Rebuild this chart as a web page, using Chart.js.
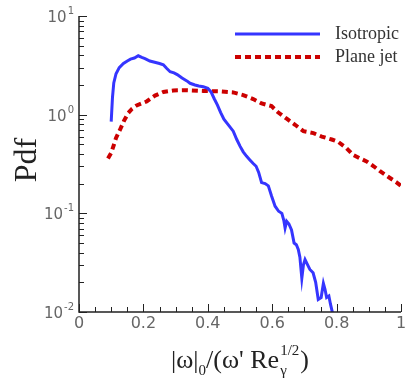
<!DOCTYPE html>
<html>
<head>
<meta charset="utf-8">
<script src="https://cdn.jsdelivr.net/npm/chart.js@4"></script>
<style>
  html, body { margin: 0; padding: 0; background: #fff; }
  #c { display: block; }
</style>
</head>
<body>
<canvas id="c" width="406" height="386"></canvas>
<script>
// ---- data ----
const isoX = [0.100,0.104,0.108,0.115,0.125,0.138,0.150,0.160,0.172,0.184,0.195,0.205,0.220,0.235,0.250,0.262,0.272,0.283,0.295,0.305,0.320,0.335,0.345,0.360,0.372,0.386,0.400,0.410,0.420,0.430,0.440,0.450,0.465,0.479,0.490,0.500,0.510,0.520,0.530,0.541,0.550,0.558,0.567,0.578,0.588,0.598,0.609,0.620,0.630,0.636,0.640,0.645,0.652,0.660,0.668,0.675,0.681,0.686,0.692,0.697,0.702,0.710,0.717,0.727,0.735,0.743,0.752,0.759,0.764,0.769,0.776,0.781,0.786,0.790];
const isoY = [0.85,1.5,2.1,2.6,3.0,3.3,3.5,3.65,3.75,3.95,3.8,3.7,3.5,3.4,3.3,3.2,2.95,2.72,2.65,2.55,2.35,2.2,2.08,2.0,1.95,1.92,1.85,1.7,1.45,1.25,1.05,0.9,0.78,0.68,0.56,0.48,0.42,0.38,0.35,0.32,0.30,0.26,0.205,0.20,0.19,0.15,0.118,0.105,0.10,0.085,0.071,0.083,0.078,0.068,0.050,0.048,0.043,0.036,0.022,0.030,0.034,0.030,0.027,0.025,0.020,0.0134,0.014,0.0195,0.017,0.014,0.0145,0.012,0.0102,0.009];
const jetX = [0.090,0.100,0.107,0.115,0.127,0.140,0.153,0.165,0.179,0.195,0.210,0.236,0.262,0.293,0.334,0.386,0.438,0.479,0.510,0.541,0.567,0.598,0.619,0.645,0.671,0.697,0.728,0.754,0.785,0.805,0.830,0.852,0.873,0.893,0.915,0.935,0.960,0.987,1.000];
const jetY = [0.36,0.41,0.48,0.58,0.70,0.87,1.04,1.15,1.24,1.30,1.36,1.56,1.70,1.76,1.77,1.74,1.72,1.68,1.58,1.44,1.30,1.22,1.05,0.91,0.79,0.68,0.65,0.60,0.56,0.53,0.46,0.39,0.36,0.336,0.30,0.267,0.235,0.205,0.19];
const seriesNames = ["Isotropic", "Plane jet"];
const xMajorTicks = [0, 0.2, 0.4, 0.6, 0.8, 1];
const xTickLabels = ["0", "0.2", "0.4", "0.6", "0.8", "1"];
const yDecades = [0.01, 0.1, 1, 10];
const yTickExp = ["-2", "-1", "0", "1"];

const toPts = (xs, ys) => xs.map((x, i) => ({ x: x, y: ys[i] }));

const SERIF = '"Liberation Serif", "DejaVu Serif", serif';
const SANS = '"DejaVu Sans", sans-serif';

const axesPlugin = {
  id: 'axesPlugin',
  afterDraw(chart) {
    const ctx = chart.ctx;
    const xs = chart.scales.x, ys = chart.scales.y;
    const L = xs.left, R = xs.right, T = ys.top, B = ys.bottom;
    ctx.save();
    ctx.strokeStyle = '#222';
    ctx.lineWidth = 1.5;
    ctx.beginPath();
    ctx.moveTo(L, T); ctx.lineTo(L, B); ctx.lineTo(R, B);
    ctx.stroke();
    ctx.lineWidth = 1;
    // x ticks
    for (let v = 0; v <= 1.0001; v += 0.05) {
      const px = Math.round(xs.getPixelForValue(v)) + 0.5;
      const major = Math.abs(v / 0.2 - Math.round(v / 0.2)) < 1e-6;
      ctx.beginPath();
      ctx.moveTo(px, B); ctx.lineTo(px, B - (major ? 8 : 5));
      ctx.stroke();
    }
    // y ticks
    for (let d = 0; d < yDecades.length; d++) {
      const base = yDecades[d];
      const py = Math.round(ys.getPixelForValue(base)) + 0.5;
      ctx.beginPath(); ctx.moveTo(L, py); ctx.lineTo(L + 8, py); ctx.stroke();
      if (d < yDecades.length - 1) {
        for (let m = 2; m <= 9; m++) {
          const pm = Math.round(ys.getPixelForValue(base * m)) + 0.5;
          ctx.beginPath(); ctx.moveTo(L, pm); ctx.lineTo(L + 5, pm); ctx.stroke();
        }
      }
    }
    // x tick labels
    ctx.fillStyle = '#666';
    ctx.font = '16px ' + SANS;
    ctx.textAlign = 'center';
    ctx.textBaseline = 'alphabetic';
    xMajorTicks.forEach((v, i) => {
      ctx.fillText(xTickLabels[i], xs.getPixelForValue(v), B + 16);
    });
    // y tick labels 10^n
    yDecades.forEach((v, i) => {
      const py = ys.getPixelForValue(v);
      ctx.font = '15px ' + SANS;
      const w1 = ctx.measureText('10').width;
      ctx.font = '10px ' + SANS;
      const w2 = ctx.measureText(yTickExp[i]).width;
      const right = L - 5;
      ctx.textAlign = 'left';
      ctx.font = '15px ' + SANS;
      ctx.fillText('10', right - w1 - w2 - 1, py + 6);
      ctx.font = '10px ' + SANS;
      ctx.fillText(yTickExp[i], right - w2, py - 2);
    });
    // y title
    ctx.fillStyle = '#222';
    ctx.save();
    ctx.translate(36, 160);
    ctx.rotate(-Math.PI / 2);
    ctx.font = '32px ' + SERIF;
    ctx.textAlign = 'center';
    ctx.fillText('Pdf', 0, 0);
    ctx.restore();
    // x title: |ω|0/(ω'Re_γ^{1/2})
    const big = '26px ' + SERIF, small = '15px ' + SERIF;
    const parts = [
      { t: '|ω|', f: big, dy: 0 },
      { t: '0', f: small, dy: 7 },
      { t: "/(ω' Re", f: big, dy: 0 },
      { t: 'γ', f: small, dy: 7, shared: true },
      { t: '1/2', f: small, dy: -13 },
      { t: ')', f: big, dy: 0 }
    ];
    let total = 0;
    parts.forEach(p => { ctx.font = p.f; p.w = ctx.measureText(p.t).width; });
    // gamma and 1/2 share horizontal position
    total = parts[0].w + parts[1].w + parts[2].w + Math.max(parts[3].w, parts[4].w) + parts[5].w + 2;
    let x = 240 - total / 2;
    const base = 368;
    ctx.textAlign = 'left';
    ctx.font = parts[0].f; ctx.fillText(parts[0].t, x, base); x += parts[0].w;
    ctx.font = parts[1].f; ctx.fillText(parts[1].t, x, base + parts[1].dy); x += parts[1].w;
    ctx.font = parts[2].f; ctx.fillText(parts[2].t, x, base); x += parts[2].w + 1;
    ctx.font = parts[3].f; ctx.fillText(parts[3].t, x, base + parts[3].dy);
    ctx.font = parts[4].f; ctx.fillText(parts[4].t, x, base + parts[4].dy);
    x += Math.max(parts[3].w, parts[4].w) + 1;
    ctx.font = parts[5].f; ctx.fillText(parts[5].t, x, base);
    // legend
    const legY = [34, 57];
    chart.data.datasets.forEach((ds, i) => {
      ctx.save();
      ctx.strokeStyle = ds.borderColor;
      ctx.lineWidth = ds.borderWidth;
      ctx.setLineDash(ds.borderDash || []);
      ctx.beginPath();
      ctx.moveTo(235, legY[i]); ctx.lineTo(320, legY[i]);
      ctx.stroke();
      ctx.restore();
      ctx.fillStyle = '#333';
      ctx.font = '18px ' + SERIF;
      ctx.textAlign = 'left';
      ctx.textBaseline = 'middle';
      ctx.fillText(seriesNames[i], 335, legY[i]);
      ctx.textBaseline = 'alphabetic';
    });
    ctx.restore();
  }
};

new Chart(document.getElementById('c'), {
  type: 'line',
  data: {
    datasets: [
      { label: seriesNames[0], data: toPts(isoX, isoY), borderColor: '#3535ff', borderWidth: 3, pointRadius: 0, tension: 0, fill: false },
      { label: seriesNames[1], data: toPts(jetX, jetY), borderColor: '#cc0000', borderWidth: 4, borderDash: [6, 4], pointRadius: 0, tension: 0, fill: false }
    ]
  },
  options: {
    responsive: false,
    animation: false,
    devicePixelRatio: 1,
    layout: { padding: { left: 79, right: 5, top: 16, bottom: 74 } },
    plugins: { legend: { display: false }, tooltip: { enabled: false } },
    scales: {
      x: { type: 'linear', min: 0, max: 1, display: false },
      y: { type: 'logarithmic', min: 0.01, max: 10, display: false }
    }
  },
  plugins: [axesPlugin]
});
</script>
</body>
</html>
